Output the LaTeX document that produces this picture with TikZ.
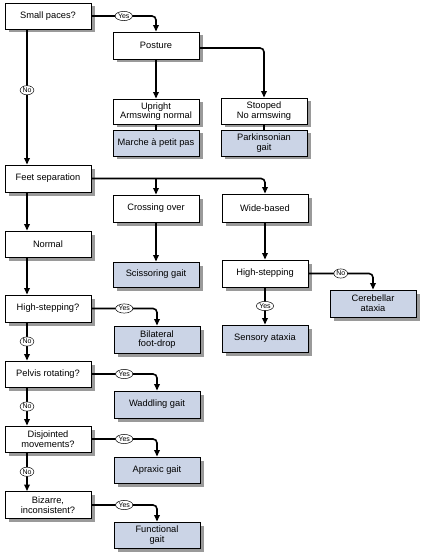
\documentclass[tikz,border=0pt]{standalone}
\usepackage{fontspec}
\setmainfont{Liberation Sans}
\usetikzlibrary{shapes.geometric,shadows,arrows.meta}
\definecolor{resfill}{HTML}{CBD4E6}
\definecolor{shadowgray}{HTML}{9A9A9A}
\tikzset{
  box/.style={draw=black, line width=0.9pt, fill=white, minimum width=86pt, minimum height=26pt,
    inner sep=1pt, align=center, font=\fontsize{9.3}{9.8}\selectfont,
    drop shadow={shadow xshift=3.5pt, shadow yshift=-3.5pt, fill=shadowgray, opacity=1}},
  res/.style={box, fill=resfill},
  conn/.style={line width=1.6pt, rounded corners=4pt, -{Triangle[length=6.5pt,width=5.5pt]}},
  link/.style={line width=1.6pt},
  lbl/.style={ellipse, draw=black, line width=0.5pt, fill=white, inner xsep=0.4pt, inner ysep=0.8pt,
    font=\fontsize{7}{7.5}\selectfont}
}
\begin{document}
\begin{tikzpicture}[x=1pt,y=-1pt]
\useasboundingbox (0,0) rectangle (423,556);
\coordinate (lx) at (27,0);
% left column
\node[box] (sp) at (48,16) {Small paces?};
\node[box,minimum height=27pt] (feet) at (48,178.5) {Feet separation};
\node[box] (normal) at (48,244) {Normal};
\node[box,minimum height=27pt] (hsq) at (48,308.5) {High-stepping?};
\node[box] (pelv) at (48,374) {Pelvis rotating?};
\node[box] (disj) at (48,439) {Disjointed\\movements?};
\node[box,minimum height=27pt] (biz) at (48,505) {Bizarre,\\inconsistent?};
% middle column
\node[box,minimum height=27pt] (post) at (156,45.5) {Posture};
\node[box,minimum height=25pt] (up) at (156,111.5) {Upright\\Armswing normal};
\node[res] (marche) at (156,143) {Marche \`a petit pas};
\node[box,minimum height=27pt] (cross) at (156,208.5) {Crossing over};
\node[res,minimum height=25pt] (sciss) at (156,274.5) {Scissoring gait};
\node[res,minimum height=27pt] (bil) at (157,339.5) {Bilateral\\foot-drop};
\node[res,minimum height=27pt] (wadd) at (157,404.5) {Waddling gait};
\node[res] (aprax) at (157,470) {Apraxic gait};
\node[res] (func) at (157,535) {Functional\\gait};
% right column
\node[box] (stoop) at (264,111) {Stooped\\No armswing};
\node[res] (park) at (264,143) {Parkinsonian\\gait};
\node[box,minimum height=28pt] (wide) at (265,208) {Wide-based};
\node[box,minimum height=27pt] (hs2) at (265,273.5) {High-stepping};
\node[res,minimum height=27pt] (sens) at (265,338.5) {Sensory ataxia};
\node[res,minimum height=27pt] (cereb) at (373,303.5) {Cerebellar\\ataxia};
% connectors
\draw[conn] (sp.east) -| node[lbl,pos=0.25]{Yes} (post.north);
\draw[conn] (post.south) -- (up.north);
\draw[conn] ([yshift=-2.5pt]post.east) -| (stoop.north);
\draw[link] (up.south) -- (marche.north);
\draw[link] (stoop.south) -- (park.north);
\draw[conn] (sp.south -| lx) -- node[lbl,pos=0.45]{No} (feet.north -| lx);
\draw[conn] (feet.east) -| (wide.north);
\draw[conn] (feet.east -| cross.north) -- (cross.north);
\draw[conn] (feet.south -| lx) -- (normal.north -| lx);
\draw[conn] (cross.south) -- (sciss.north);
\draw[conn] (wide.south) -- (hs2.north);
\draw[conn] (hs2.east) -| node[lbl,pos=0.25]{No} (cereb.north);
\draw[conn] (hs2.south) -- node[lbl]{Yes} (sens.north);
\draw[conn] (normal.south -| lx) -- (hsq.north -| lx);
\draw[conn] (hsq.east) -| node[lbl,pos=0.25]{Yes} (bil.north);
\draw[conn] (hsq.south -| lx) -- node[lbl]{No} (pelv.north -| lx);
\draw[conn] (pelv.east) -| node[lbl,pos=0.25]{Yes} (wadd.north);
\draw[conn] (pelv.south -| lx) -- node[lbl]{No} (disj.north -| lx);
\draw[conn] (disj.east) -| node[lbl,pos=0.25]{Yes} (aprax.north);
\draw[conn] (disj.south -| lx) -- node[lbl]{No} (biz.north -| lx);
\draw[conn] (biz.east) -| node[lbl,pos=0.25]{Yes} (func.north);
\end{tikzpicture}
\end{document}
